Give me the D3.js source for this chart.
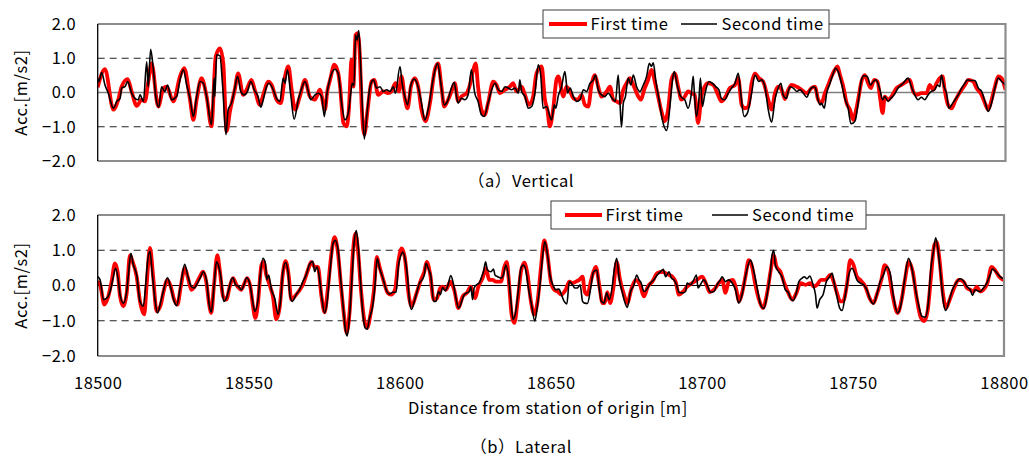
<!DOCTYPE html>
<html>
<head>
<meta charset="utf-8">
<script src="https://cdn.jsdelivr.net/npm/d3@7"></script>
<style>
  body { margin: 0; background: #fff; }
  svg { display: block; }
  text { font-family: "Noto Sans CJK JP", "Noto Sans", sans-serif; fill: #000; letter-spacing: 0.55px; }
</style>
</head>
<body>
<svg id="chart" width="1029" height="458"></svg>
<script>
// ---- data -----------------------------------------------------------------
const distanceDomain = [18500, 18800];
const accDomain = [-2, 2];
const xTickValues = [18500, 18550, 18600, 18650, 18700, 18750, 18800];
const yTickValues = [2, 1, 0, -1, -2];
const gridValues = [1, -1];
const seriesNames = ["First time", "Second time"];
const panelCaptions = ["（a）Vertical", "（b）Lateral"];
const xAxisTitle = "Distance from station of origin [m]";
const yAxisTitle = "Acc.[m/s2]";

// [distance (m), acceleration (m/s2)]
const verticalFirst = [
  [18500.0,0.15],[18502.4,0.68],[18505.2,-0.50],[18506.8,-0.21],[18507.9,0.17],[18509.9,0.39],[18511.2,0.03],[18512.9,-0.39],
  [18514.5,-0.21],[18515.6,-0.26],[18516.7,0.30],[18517.8,0.85],[18520.0,-0.41],[18521.7,0.12],[18522.8,0.17],[18525.0,-0.26],
  [18527.2,0.47],[18528.6,0.71],[18530.5,-0.21],[18531.6,-0.80],[18532.7,-0.21],[18534.3,0.42],[18536.0,-0.12],[18537.6,-0.99],
  [18539.0,1.05],[18540.4,1.29],[18541.5,0.85],[18542.6,-1.13],[18543.7,-0.55],[18545.3,0.08],[18546.4,0.56],[18548.1,-0.07],
  [18549.2,0.08],[18550.8,0.37],[18551.9,0.08],[18553.6,-0.36],[18554.7,-0.07],[18556.4,0.32],[18557.5,0.22],[18559.1,-0.21],
  [18560.5,-0.31],[18561.9,0.47],[18563.0,0.76],[18564.1,0.08],[18565.2,-0.50],[18566.8,-0.12],[18568.5,0.37],[18570.1,-0.12],
  [18571.8,-0.21],[18573.4,0.08],[18575.1,-0.50],[18575.9,0.05],[18576.8,0.37],[18578.2,0.81],[18579.5,0.56],[18580.1,0.17],
  [18581.2,-0.89],[18582.3,-0.99],[18583.0,-0.50],[18583.9,0.95],[18584.5,0.17],[18585.2,1.68],[18585.9,1.73],[18586.7,0.95],
  [18587.2,-0.31],[18588.1,-1.23],[18589.2,-0.50],[18590.5,0.32],[18591.4,0.37],[18592.7,-0.07],[18594.4,0.03],[18596.0,-0.02],
  [18597.1,0.03],[18598.4,0.27],[18599.5,0.03],[18600.4,0.47],[18601.5,-0.17],[18602.4,-0.46],[18603.5,0.17],[18604.8,0.42],
  [18605.9,0.17],[18607.0,-0.50],[18608.3,-0.84],[18609.8,-0.31],[18611.4,0.66],[18612.5,0.85],[18613.6,0.17],[18614.5,-0.41],
  [18615.8,-0.21],[18616.9,0.03],[18618.0,0.27],[18619.1,-0.26],[18620.2,-0.12],[18621.9,-0.02],[18623.0,0.22],[18624.1,0.66],
  [18624.9,0.85],[18625.7,0.17],[18626.8,-0.50],[18627.9,-0.65],[18629.0,-0.31],[18630.7,0.32],[18631.8,0.22],[18632.9,-0.02],
  [18634.6,0.08],[18636.2,0.17],[18637.3,0.27],[18638.4,0.03],[18640.1,0.17],[18641.2,-0.07],[18642.5,-0.36],[18643.9,-0.12],
  [18645.0,0.56],[18646.7,0.76],[18647.8,-0.21],[18648.6,-0.50],[18649.4,-0.99],[18650.5,-0.50],[18651.6,0.37],[18652.2,0.47],
  [18653.9,-0.12],[18654.9,0.17],[18656.1,0.03],[18657.2,-0.17],[18658.6,-0.21],[18659.9,-0.07],[18661.0,-0.36],[18662.1,-0.41],
  [18663.2,0.22],[18664.3,0.51],[18665.4,0.17],[18666.5,-0.12],[18668.2,0.03],[18669.3,0.17],[18670.4,-0.21],[18671.5,-0.26],
  [18672.6,-0.31],[18673.7,0.08],[18674.8,0.27],[18675.9,0.42],[18677.0,0.22],[18678.1,-0.02],[18679.5,-0.21],[18680.6,0.08],
  [18681.9,0.37],[18683.0,0.66],[18684.1,0.32],[18685.2,-0.12],[18686.3,-0.55],[18687.4,-0.84],[18688.5,-0.50],[18689.6,0.37],
  [18690.7,0.56],[18691.8,0.17],[18692.9,-0.21],[18694.0,-0.12],[18695.1,0.03],[18696.2,-0.02],[18697.3,-0.07],[18698.4,-0.89],
  [18699.5,-0.12],[18700.6,0.17],[18701.7,0.27],[18703.4,0.22],[18705.0,-0.07],[18706.1,-0.26],[18707.5,-0.12],[18708.9,0.13],
  [18710.6,0.22],[18711.7,0.42],[18712.8,-0.36],[18713.9,-0.46],[18715.0,-0.41],[18716.1,0.27],[18717.2,0.56],[18718.5,0.42],
  [18719.9,0.32],[18721.6,-0.21],[18722.7,-0.50],[18723.8,-0.02],[18724.9,0.17],[18726.0,0.08],[18727.1,-0.19],[18728.2,0.08],
  [18729.3,0.22],[18731.0,0.17],[18732.6,0.08],[18734.3,-0.02],[18735.9,0.13],[18737.0,0.17],[18738.1,-0.21],[18739.2,-0.31],
  [18740.3,-0.02],[18741.4,0.22],[18742.5,0.47],[18743.6,0.66],[18744.5,0.76],[18745.3,0.51],[18746.4,0.17],[18747.5,-0.31],
  [18748.6,-0.50],[18749.7,-0.80],[18750.4,-0.60],[18751.3,-0.21],[18752.4,0.32],[18753.5,0.51],[18754.6,0.27],[18755.5,0.13],
  [18756.6,0.37],[18757.7,0.32],[18758.5,-0.12],[18759.4,-0.60],[18760.1,-0.12],[18761.2,-0.21],[18762.3,-0.12],[18764.0,0.13],
  [18765.6,0.22],[18767.3,0.32],[18768.4,0.37],[18769.5,0.03],[18770.6,-0.07],[18772.2,-0.02],[18773.9,-0.02],[18775.0,0.22],
  [18776.1,0.08],[18777.2,0.27],[18778.3,0.42],[18779.2,0.47],[18779.9,0.08],[18781.0,-0.36],[18782.2,-0.46],[18783.3,-0.26],
  [18784.4,-0.07],[18785.5,0.08],[18786.6,0.22],[18787.7,0.37],[18789.3,0.32],[18790.4,0.13],[18792.1,-0.07],[18793.2,-0.31],
  [18794.3,-0.50],[18795.4,-0.21],[18796.5,0.17],[18797.6,0.47],[18798.7,0.42],[18800.0,0.08]
];

const verticalSecond = [
  [18500.0,0.42],[18500.4,0.32],[18501.3,0.58],[18502.4,0.22],[18503.5,-0.02],[18505.2,-0.46],[18506.3,-0.26],[18507.4,-0.17],
  [18507.9,0.13],[18509.0,0.17],[18509.9,0.32],[18511.2,-0.02],[18512.3,-0.17],[18513.4,-0.21],[18514.0,-0.07],[18515.1,-0.26],
  [18516.2,0.90],[18516.7,0.17],[18517.5,1.26],[18518.4,0.66],[18519.2,-0.12],[18520.2,-0.43],[18521.1,0.17],[18522.2,0.03],
  [18523.1,0.22],[18524.4,-0.21],[18526.1,-0.12],[18527.2,0.37],[18528.3,0.66],[18529.4,0.22],[18530.5,-0.17],[18531.6,-0.70],
  [18532.7,-0.12],[18533.8,0.32],[18534.9,0.27],[18536.0,-0.12],[18537.6,-0.94],[18538.5,0.42],[18538.7,-0.12],[18539.3,1.10],
  [18540.4,1.07],[18541.3,0.17],[18542.4,-1.23],[18543.1,-0.50],[18544.2,-0.31],[18545.3,0.12],[18546.2,0.47],[18547.3,0.03],
  [18548.4,-0.07],[18549.5,0.03],[18550.6,0.32],[18551.7,0.08],[18553.0,-0.12],[18553.9,-0.43],[18554.7,-0.21],[18555.8,0.17],
  [18556.6,0.27],[18558.0,0.08],[18559.1,-0.17],[18560.2,-0.26],[18561.3,0.42],[18561.9,0.27],[18562.7,0.66],[18563.8,-0.07],
  [18564.9,-0.78],[18566.3,-0.21],[18567.4,0.12],[18568.5,0.32],[18569.6,0.03],[18570.4,-0.21],[18571.8,-0.07],[18572.9,-0.02],
  [18574.0,-0.12],[18574.9,-0.70],[18575.7,-0.07],[18576.8,0.42],[18578.4,0.68],[18579.5,0.56],[18580.6,-0.31],[18581.7,-0.80],
  [18582.8,-0.60],[18583.7,0.03],[18584.1,0.27],[18584.7,0.20],[18585.2,1.68],[18585.7,1.53],[18586.3,1.81],[18587.0,0.56],
  [18588.1,-1.36],[18588.9,-0.70],[18590.0,0.17],[18591.1,0.37],[18592.2,0.13],[18593.3,0.17],[18594.4,0.03],[18595.5,0.08],
  [18596.6,0.03],[18597.7,0.17],[18598.4,-0.02],[18599.9,0.76],[18600.6,0.27],[18601.5,-0.12],[18602.4,-0.36],[18603.5,0.22],
  [18604.6,0.39],[18605.7,0.22],[18607.0,-0.31],[18608.1,-0.80],[18609.4,-0.41],[18610.9,0.42],[18612.3,0.85],[18613.4,0.27],
  [18614.5,-0.36],[18615.6,-0.26],[18616.7,0.08],[18617.8,0.29],[18618.6,-0.12],[18619.1,-0.31],[18620.2,-0.17],[18621.3,-0.21],
  [18622.4,-0.07],[18623.5,0.66],[18624.6,-0.02],[18625.7,-0.26],[18626.8,-0.65],[18627.7,-0.70],[18629.0,-0.31],[18630.2,0.08],
  [18631.3,0.27],[18632.4,0.08],[18633.5,0.03],[18634.6,0.17],[18635.7,0.13],[18636.8,0.08],[18637.9,0.13],[18639.0,-0.02],
  [18639.5,0.37],[18640.1,0.03],[18641.2,-0.12],[18642.3,-0.46],[18643.4,-0.41],[18644.5,-0.02],[18645.6,0.81],[18646.4,0.51],
  [18647.2,-0.46],[18648.3,-0.41],[18650.0,-0.80],[18650.9,-0.36],[18651.4,-0.46],[18652.2,-0.10],[18653.3,0.17],[18654.4,0.61],
  [18655.3,-0.02],[18656.1,0.13],[18657.2,-0.12],[18658.3,-0.26],[18659.4,-0.21],[18660.5,0.08],[18661.6,0.03],[18662.7,0.27],
  [18663.8,0.37],[18664.5,0.51],[18665.4,0.08],[18666.5,-0.07],[18667.6,-0.12],[18668.7,-0.02],[18670.0,-0.17],[18671.1,-0.26],
  [18672.0,0.51],[18672.6,-0.31],[18673.1,-1.01],[18673.7,-0.31],[18674.4,-0.12],[18675.3,0.42],[18676.2,0.22],[18677.0,0.51],
  [18678.1,0.17],[18679.2,0.03],[18680.3,0.22],[18681.4,0.47],[18682.3,0.85],[18683.0,0.76],[18683.6,0.87],[18684.4,0.37],
  [18685.5,-0.21],[18686.6,-0.80],[18688.0,-1.11],[18689.1,-0.41],[18689.9,0.32],[18690.5,0.61],[18691.6,0.17],[18692.7,-0.12],
  [18694.0,-0.21],[18695.1,-0.46],[18696.2,-0.02],[18696.8,0.47],[18697.3,-0.21],[18697.9,-0.70],[18698.7,-0.17],[18699.2,0.42],
  [18699.8,-0.41],[18700.6,-0.07],[18702.0,0.32],[18703.1,0.27],[18704.2,0.17],[18705.3,0.08],[18706.1,-0.17],[18707.2,-0.21],
  [18708.4,-0.02],[18709.5,0.13],[18710.6,0.27],[18711.7,0.56],[18712.5,-0.02],[18713.6,-0.70],[18714.7,-0.60],[18716.1,-0.02],
  [18717.2,0.51],[18718.5,0.32],[18719.4,0.37],[18720.5,0.17],[18721.6,-0.50],[18722.7,-0.87],[18723.8,-0.21],[18724.9,0.13],
  [18725.8,0.27],[18726.5,-0.07],[18727.6,-0.17],[18728.2,0.03],[18728.8,0.17],[18729.9,0.13],[18731.0,0.03],[18732.1,0.08],
  [18733.2,-0.02],[18734.3,-0.14],[18735.4,0.08],[18736.5,0.17],[18737.2,0.13],[18737.9,-0.17],[18738.7,-0.36],[18739.2,-0.31],
  [18740.1,-0.46],[18740.9,-0.02],[18742.0,0.27],[18743.1,0.56],[18743.8,0.71],[18744.7,0.61],[18745.8,0.27],[18746.9,-0.17],
  [18748.0,-0.46],[18748.9,-0.91],[18749.7,-0.89],[18750.4,-0.80],[18751.3,-0.31],[18752.4,0.37],[18753.2,0.49],[18754.3,0.47],
  [18755.4,0.22],[18756.3,0.32],[18757.2,0.37],[18758.5,0.08],[18759.4,-0.21],[18760.1,-0.12],[18761.2,-0.26],[18762.1,-0.17],
  [18763.2,-0.07],[18764.5,0.13],[18766.2,0.27],[18767.8,0.42],[18768.9,0.17],[18770.0,-0.07],[18771.1,-0.21],[18772.2,-0.14],
  [18773.3,-0.21],[18774.4,-0.07],[18775.5,0.03],[18776.6,0.08],[18777.5,0.22],[18778.3,0.17],[18778.8,0.51],[18779.7,0.17],
  [18780.5,-0.02],[18781.3,-0.46],[18782.2,-0.36],[18783.3,-0.21],[18784.4,-0.07],[18785.5,0.13],[18786.6,0.27],[18787.4,0.37],
  [18788.8,0.35],[18789.9,0.35],[18791.0,0.13],[18792.1,0.03],[18793.2,-0.26],[18794.3,-0.55],[18795.4,-0.31],[18796.5,0.13],
  [18797.6,0.42],[18798.7,0.32],[18800.0,0.22]
];

const lateralFirst = [
  [18500.0,0.11],[18500.8,0.02],[18502.2,-0.54],[18503.5,-0.31],[18504.6,0.11],[18505.7,0.63],[18506.6,0.39],[18507.4,-0.31],
  [18508.5,-0.59],[18509.6,-0.21],[18510.7,0.86],[18511.4,0.72],[18512.9,0.25],[18514.0,-0.45],[18515.4,-0.82],[18516.2,0.02],
  [18517.3,1.07],[18518.4,0.21],[18519.5,-0.73],[18520.9,-0.54],[18521.7,-0.21],[18523.1,0.16],[18524.2,-0.03],[18525.3,-0.40],
  [18526.4,-0.54],[18527.5,-0.03],[18528.8,0.49],[18529.9,0.21],[18531.0,-0.12],[18532.1,-0.03],[18533.8,0.25],[18534.9,0.39],
  [18536.0,0.07],[18536.9,-0.54],[18537.6,-0.78],[18538.5,0.02],[18539.6,0.86],[18540.4,0.44],[18541.5,-0.31],[18542.6,-0.40],
  [18543.7,-0.03],[18544.8,0.21],[18545.9,0.02],[18547.5,-0.12],[18548.6,0.07],[18549.5,0.21],[18550.6,-0.07],[18551.4,-0.59],
  [18552.2,-0.92],[18553.0,-0.54],[18554.2,0.58],[18554.9,0.67],[18555.8,0.30],[18556.9,0.02],[18558.0,-0.31],[18559.1,-0.96],
  [18560.2,-0.64],[18561.3,0.35],[18562.2,0.69],[18563.2,0.30],[18564.1,-0.40],[18565.2,-0.31],[18566.5,-0.17],[18567.9,0.02],
  [18569.6,0.44],[18570.7,0.67],[18571.8,0.53],[18572.9,0.53],[18574.0,-0.26],[18575.1,-0.76],[18576.2,-0.07],[18577.3,0.86],
  [18578.4,1.37],[18579.5,0.95],[18580.6,-0.07],[18581.5,-0.82],[18582.4,-1.34],[18583.4,-0.73],[18584.5,0.95],[18585.3,1.47],
  [18586.1,1.05],[18587.2,-0.17],[18588.3,-1.01],[18589.2,-1.20],[18590.3,-0.82],[18591.4,-0.17],[18592.4,0.81],[18593.3,0.53],
  [18594.7,0.11],[18596.0,-0.21],[18597.1,-0.26],[18598.4,-0.12],[18599.5,0.67],[18600.6,1.05],[18601.7,0.77],[18602.8,-0.17],
  [18603.9,-0.59],[18605.4,-0.26],[18607.0,0.16],[18608.1,0.39],[18608.9,0.67],[18610.1,0.30],[18611.2,-0.40],[18612.3,-0.36],
  [18613.4,-0.07],[18614.2,-0.03],[18615.3,-0.12],[18616.7,0.11],[18618.0,-0.12],[18619.4,-0.64],[18620.8,-0.31],[18622.2,-0.21],
  [18623.5,-0.03],[18624.9,-0.36],[18626.0,-0.03],[18627.4,0.21],[18628.5,0.49],[18629.6,0.16],[18630.7,0.16],[18631.8,0.11],
  [18633.5,0.11],[18634.6,0.53],[18635.4,0.67],[18636.2,0.02],[18637.0,-0.82],[18637.9,-1.06],[18639.0,-0.45],[18640.1,0.39],
  [18641.2,0.65],[18642.3,0.30],[18643.4,-0.45],[18644.5,-0.82],[18645.6,-0.45],[18646.7,0.49],[18647.8,1.28],[18648.9,0.86],
  [18650.0,0.11],[18651.1,-0.12],[18652.2,-0.17],[18653.5,-0.26],[18654.9,-0.12],[18656.1,0.11],[18657.2,0.07],[18658.3,0.11],
  [18659.4,0.16],[18660.5,0.25],[18661.2,-0.17],[18662.1,-0.26],[18663.2,0.11],[18664.1,0.39],[18664.9,0.53],[18666.0,0.02],
  [18667.1,-0.50],[18667.8,-0.50],[18668.7,-0.19],[18669.6,-0.50],[18670.7,-0.07],[18671.8,0.67],[18672.9,0.16],[18674.2,-0.26],
  [18675.3,-0.50],[18676.6,-0.12],[18678.1,0.16],[18679.5,0.02],[18680.8,-0.31],[18682.1,-0.03],[18683.6,0.11],[18685.2,0.35],
  [18686.9,0.39],[18688.0,0.35],[18689.1,0.30],[18690.2,0.25],[18691.3,0.11],[18692.4,-0.26],[18693.8,-0.17],[18695.1,-0.03],
  [18696.8,0.07],[18698.4,0.16],[18700.1,0.25],[18701.5,0.02],[18702.6,-0.19],[18704.0,-0.12],[18705.6,0.07],[18706.7,0.16],
  [18707.8,-0.21],[18708.9,0.11],[18710.3,0.16],[18711.4,-0.12],[18712.3,-0.45],[18713.3,-0.21],[18714.4,0.25],[18715.5,0.72],
  [18716.6,0.53],[18717.7,0.02],[18719.1,-0.45],[18720.2,-0.64],[18721.6,-0.21],[18722.7,0.39],[18723.8,0.86],[18724.7,0.53],
  [18726.0,0.39],[18727.1,0.11],[18728.4,-0.17],[18729.9,-0.40],[18731.3,-0.21],[18732.6,0.07],[18734.3,0.02],[18735.9,0.07],
  [18737.0,-0.03],[18738.1,0.02],[18739.4,0.16],[18740.9,0.16],[18742.5,0.30],[18743.6,0.11],[18744.7,-0.21],[18745.8,-0.45],
  [18746.7,-0.45],[18748.0,0.02],[18749.1,0.72],[18750.2,0.58],[18751.3,0.25],[18752.4,0.16],[18754.1,-0.03],[18755.5,-0.36],
  [18756.8,-0.50],[18757.9,-0.26],[18759.4,0.16],[18760.5,0.58],[18761.8,0.39],[18763.2,-0.31],[18764.8,-0.78],[18766.2,-0.36],
  [18767.3,0.21],[18768.4,0.67],[18769.8,0.39],[18771.1,-0.36],[18772.5,-0.92],[18773.6,-1.01],[18774.7,-0.73],[18775.8,0.21],
  [18776.9,1.14],[18777.7,1.23],[18778.6,0.77],[18779.7,-0.17],[18780.8,-0.64],[18782.2,-0.36],[18783.5,-0.07],[18784.9,0.16],
  [18786.6,0.11],[18787.7,-0.07],[18788.8,-0.12],[18789.9,-0.17],[18791.0,-0.03],[18792.1,-0.17],[18793.2,-0.12],[18794.5,0.07],
  [18795.9,0.53],[18797.0,0.44],[18798.4,0.25],[18800.0,0.15]
];

const lateralSecond = [
  [18500.0,0.25],[18500.8,0.16],[18501.9,-0.40],[18503.0,-0.36],[18504.1,-0.17],[18505.2,0.25],[18505.9,0.49],[18506.8,0.16],
  [18507.4,-0.26],[18508.5,-0.50],[18509.6,-0.17],[18510.1,0.25],[18511.0,0.91],[18511.8,0.58],[18512.9,0.30],[18514.0,-0.45],
  [18515.1,-0.59],[18515.8,-0.07],[18516.5,0.67],[18517.3,0.97],[18518.0,0.39],[18518.9,-0.36],[18519.8,-0.78],[18520.9,-0.45],
  [18521.7,-0.17],[18523.1,0.22],[18524.2,-0.07],[18525.3,-0.45],[18526.1,-0.57],[18527.2,-0.12],[18527.9,0.25],[18528.8,0.60],
  [18529.9,0.25],[18531.0,-0.03],[18531.9,-0.07],[18533.0,0.07],[18534.1,0.25],[18534.9,0.39],[18536.0,0.16],[18536.9,-0.54],
  [18537.6,-0.75],[18538.5,-0.03],[18539.3,0.67],[18540.1,0.53],[18540.9,0.16],[18541.7,-0.45],[18542.6,-0.36],[18543.4,-0.12],
  [18544.2,0.16],[18544.8,0.22],[18545.6,0.02],[18546.7,-0.03],[18547.5,-0.12],[18548.4,0.02],[18549.3,0.22],[18550.3,0.07],
  [18551.2,-0.40],[18552.0,-0.73],[18553.0,-0.45],[18553.8,0.30],[18554.7,0.77],[18555.5,0.63],[18556.0,0.16],[18556.6,0.30],
  [18557.5,-0.12],[18558.6,-0.36],[18559.7,-0.82],[18560.5,-0.45],[18561.3,0.39],[18562.2,0.65],[18563.0,0.39],[18563.7,-0.31],
  [18564.4,-0.45],[18565.7,-0.26],[18566.8,-0.12],[18567.9,0.11],[18569.0,0.30],[18570.1,0.60],[18571.2,0.69],[18571.8,0.39],
  [18572.6,0.53],[18573.4,0.21],[18574.2,-0.36],[18575.1,-0.78],[18575.9,-0.50],[18576.8,0.30],[18577.9,1.19],[18578.6,1.28],
  [18579.5,1.05],[18580.4,0.21],[18581.2,-0.54],[18581.9,-1.20],[18582.6,-1.43],[18583.4,-0.82],[18584.1,0.11],[18584.8,1.14],
  [18585.6,1.56],[18586.3,1.05],[18587.0,0.11],[18587.8,-0.82],[18588.5,-1.20],[18589.2,-1.24],[18590.0,-0.92],[18591.1,-0.54],
  [18591.8,0.02],[18592.5,0.77],[18593.3,0.49],[18594.4,0.21],[18595.5,-0.12],[18596.6,-0.24],[18597.7,-0.19],[18598.8,-0.19],
  [18599.5,0.53],[18600.4,0.86],[18601.0,0.95],[18601.7,0.77],[18602.6,0.21],[18603.2,-0.45],[18603.9,-0.68],[18604.8,-0.45],
  [18605.7,-0.17],[18606.5,0.07],[18607.4,0.16],[18608.1,0.30],[18608.7,0.63],[18609.4,0.49],[18610.3,0.25],[18611.2,-0.45],
  [18612.0,-0.45],[18612.8,-0.17],[18613.4,-0.26],[18614.2,-0.06],[18615.0,-0.15],[18615.8,-0.03],[18616.9,0.28],[18617.8,0.02],
  [18618.6,-0.36],[18619.5,-0.64],[18620.5,-0.45],[18621.3,-0.26],[18622.2,-0.21],[18623.0,-0.17],[18623.5,-0.03],[18624.1,-0.40],
  [18624.6,-0.07],[18625.4,0.02],[18626.3,0.07],[18627.1,0.25],[18627.7,0.39],[18628.4,0.67],[18629.0,0.44],[18630.2,0.39],
  [18631.0,0.47],[18631.5,0.30],[18632.4,0.25],[18633.5,0.21],[18634.3,0.30],[18635.1,0.58],[18635.9,0.30],[18636.8,-0.45],
  [18637.5,-0.96],[18638.4,-0.73],[18639.2,-0.17],[18640.1,0.49],[18640.9,0.58],[18641.7,0.44],[18642.5,-0.03],[18643.6,-0.54],
  [18644.7,-1.01],[18645.6,-0.54],[18646.4,0.02],[18647.2,0.77],[18648.0,1.25],[18648.9,0.86],[18649.7,0.30],[18650.9,-0.03],
  [18651.6,-0.12],[18652.7,-0.10],[18653.3,-0.21],[18654.4,-0.45],[18655.3,-0.52],[18656.1,0.11],[18657.2,0.02],[18657.9,-0.07],
  [18658.8,-0.07],[18659.7,0.02],[18660.5,-0.45],[18661.2,-0.50],[18662.1,-0.51],[18663.2,-0.07],[18664.1,0.39],[18665.2,0.44],
  [18666.0,-0.07],[18666.7,-0.45],[18667.6,-0.50],[18668.5,-0.21],[18669.3,-0.40],[18670.4,0.02],[18670.9,0.39],[18671.8,0.77],
  [18672.6,0.21],[18673.7,-0.21],[18674.4,-0.45],[18675.3,-0.62],[18676.4,-0.17],[18677.5,0.02],[18678.4,0.30],[18679.2,0.16],
  [18679.9,0.07],[18680.8,-0.17],[18681.7,-0.12],[18683.0,0.07],[18684.1,0.16],[18685.2,0.30],[18686.3,0.39],[18687.2,0.46],
  [18688.0,0.25],[18689.1,0.39],[18689.9,0.21],[18690.7,0.16],[18691.6,0.02],[18692.4,-0.19],[18693.5,-0.21],[18694.6,-0.17],
  [18695.1,0.07],[18696.2,0.02],[18697.3,0.16],[18698.2,0.30],[18698.7,-0.07],[18699.5,0.02],[18700.6,0.16],[18701.7,0.02],
  [18702.8,-0.19],[18704.0,-0.17],[18705.0,0.02],[18706.1,0.16],[18706.7,0.25],[18707.8,0.11],[18708.9,0.16],[18710.0,0.07],
  [18711.1,-0.12],[18712.2,-0.50],[18713.3,-0.26],[18714.4,0.25],[18715.5,0.63],[18716.1,0.72],[18717.2,0.39],[18718.3,-0.07],
  [18719.4,-0.54],[18720.5,-0.65],[18721.6,-0.26],[18722.7,0.39],[18723.2,0.86],[18723.8,1.00],[18724.3,0.58],[18725.4,0.39],
  [18726.5,0.25],[18727.6,-0.12],[18728.7,-0.21],[18729.3,-0.36],[18730.2,-0.43],[18731.3,-0.19],[18732.1,0.11],[18733.2,0.21],
  [18733.9,0.25],[18734.8,0.19],[18735.7,0.27],[18736.8,0.02],[18737.6,-0.26],[18738.1,-0.64],[18739.0,-0.40],[18740.1,-0.26],
  [18741.2,0.11],[18742.3,0.25],[18743.1,0.35],[18743.8,0.07],[18744.7,-0.31],[18745.6,-0.64],[18746.4,-0.71],[18747.5,-0.26],
  [18748.6,0.30],[18749.7,0.49],[18750.4,0.39],[18751.3,0.16],[18752.4,0.07],[18753.5,0.02],[18754.6,-0.12],[18755.7,-0.40],
  [18756.8,-0.52],[18757.9,-0.26],[18759.0,0.11],[18760.1,0.30],[18761.2,0.53],[18762.3,0.35],[18763.4,-0.31],[18764.8,-0.78],
  [18765.9,-0.54],[18767.0,0.11],[18768.4,0.77],[18769.5,0.49],[18770.6,-0.07],[18771.7,-0.54],[18772.8,-0.87],[18773.9,-0.90],
  [18775.0,-0.45],[18775.8,0.49],[18776.6,0.95],[18777.4,1.35],[18778.3,0.91],[18779.1,0.25],[18779.9,-0.45],[18780.7,-0.71],
  [18781.8,-0.45],[18782.9,-0.12],[18784.1,0.07],[18785.5,0.19],[18786.6,0.13],[18787.7,-0.03],[18788.8,-0.12],[18789.6,-0.28],
  [18790.4,-0.12],[18791.2,-0.15],[18792.1,-0.17],[18793.2,-0.07],[18794.3,0.07],[18795.4,0.30],[18796.2,0.47],[18797.3,0.39],
  [18798.7,0.25],[18800.0,0.18]
];

// ---- layout ---------------------------------------------------------------
const svg = d3.select("#chart");
const left = 97.7;
const fontSize = 16.5;
const firstColor = "#ff0000";
const secondColor = "#000000";

const panels = [
  { key: "vertical", top: 24, bottom: 161, right: 1005.5, first: verticalFirst, second: verticalSecond,
    caption: panelCaptions[0], captionY: 181, zeroColor: "#7f7f7f", zeroWidth: 1.6, showXAxis: false,
    legend: { x: 543, y: 10, w: 286, h: 28, firstLine: [549, 587], firstText: 590.5, secondLine: [681, 717], secondText: 721.5 } },
  { key: "lateral", top: 215, bottom: 356, right: 1004, first: lateralFirst, second: lateralSecond,
    caption: panelCaptions[1], captionY: 447, zeroColor: "#000000", zeroWidth: 1, showXAxis: true,
    legend: { x: 551, y: 201, w: 315, h: 28, firstLine: [565, 602], firstText: 605.5, secondLine: [712, 748], secondText: 752 } }
];

panels.forEach((p) => {
  const x = d3.scaleLinear().domain(distanceDomain).range([left, p.right]);
  const y = d3.scaleLinear().domain(accDomain).range([p.bottom, p.top]);
  const g = svg.append("g").attr("class", "panel-" + p.key);

  const clipId = "clip-" + p.key;
  svg.append("clipPath").attr("id", clipId)
    .append("rect").attr("x", left).attr("y", p.top).attr("width", p.right - left).attr("height", p.bottom - p.top);

  // dashed reference lines at +/-1
  g.selectAll("line.grid").data(gridValues).join("line")
    .attr("class", "grid")
    .attr("x1", left).attr("x2", p.right)
    .attr("y1", d => y(d)).attr("y2", d => y(d))
    .attr("stroke", "#222").attr("stroke-width", 1)
    .attr("stroke-dasharray", "7,5");

  // zero line
  g.append("line")
    .attr("x1", left).attr("x2", p.right)
    .attr("y1", y(0)).attr("y2", y(0))
    .attr("stroke", p.zeroColor).attr("stroke-width", p.zeroWidth);

  const line = d3.line()
    .x(d => x(d[0]))
    .y(d => y(d[1]))
    .curve(d3.curveMonotoneX);

  const traces = g.append("g").attr("clip-path", `url(#${clipId})`);
  traces.append("path").datum(p.first)
    .attr("d", line).attr("fill", "none")
    .attr("stroke", firstColor).attr("stroke-width", 3.8).attr("stroke-linejoin", "round");
  traces.append("path").datum(p.second)
    .attr("d", line).attr("fill", "none")
    .attr("stroke", secondColor).attr("stroke-width", 1.6).attr("stroke-linejoin", "round");

  // frame: grey top/right/bottom, black value axis on the left
  g.append("path")
    .attr("d", `M${left},${p.top}H${p.right}V${p.bottom}H${left}`)
    .attr("fill", "none").attr("stroke", "#8c8c8c").attr("stroke-width", 2.2);
  g.append("line")
    .attr("x1", left).attr("x2", left).attr("y1", p.top).attr("y2", p.bottom)
    .attr("stroke", "#000").attr("stroke-width", 1.3);

  // value axis labels
  const yAxis = d3.axisLeft(y).tickValues(yTickValues).tickFormat(d3.format(".1f")).tickSize(0).tickPadding(21.5);
  const ya = g.append("g").attr("transform", `translate(${left},0)`).call(yAxis);
  ya.select(".domain").remove();
  ya.selectAll("text").attr("font-size", fontSize).attr("font-family", null).attr("fill", "#000");

  g.append("text")
    .attr("transform", `translate(20,${(p.top + p.bottom) / 2}) rotate(-90)`)
    .attr("text-anchor", "middle").attr("dominant-baseline", "central")
    .attr("font-size", fontSize).text(yAxisTitle);

  if (p.showXAxis) {
    const xAxis = d3.axisBottom(x).tickValues(xTickValues).tickFormat(d3.format("d")).tickSize(0);
    const xa = g.append("g").attr("transform", `translate(0,${p.bottom})`).call(xAxis);
    xa.select(".domain").remove();
    xa.selectAll("text").attr("font-size", fontSize).attr("font-family", null).attr("fill", "#000")
      .attr("y", 27).attr("dy", "0.35em");
    g.append("text")
      .attr("x", (left + p.right) / 2 - 3).attr("y", 408).attr("dy", "0.35em")
      .attr("text-anchor", "middle").attr("font-size", fontSize).text(xAxisTitle);
  }

  // caption
  g.append("text")
    .attr("x", 521).attr("y", p.captionY).attr("dy", "0.35em")
    .attr("text-anchor", "middle").attr("font-size", fontSize).text(p.caption);

  // legend
  const L = p.legend;
  const cy = L.y + L.h / 2;
  const lg = g.append("g").attr("class", "legend");
  lg.append("rect").attr("x", L.x).attr("y", L.y).attr("width", L.w).attr("height", L.h)
    .attr("fill", "#fff").attr("stroke", "#3c3c3c").attr("stroke-width", 1);
  lg.append("line").attr("x1", L.firstLine[0]).attr("x2", L.firstLine[1]).attr("y1", cy).attr("y2", cy)
    .attr("stroke", firstColor).attr("stroke-width", 4);
  lg.append("text").attr("x", L.firstText).attr("y", cy).attr("dy", "0.35em")
    .attr("font-size", fontSize).text(seriesNames[0]);
  lg.append("line").attr("x1", L.secondLine[0]).attr("x2", L.secondLine[1]).attr("y1", cy).attr("y2", cy)
    .attr("stroke", secondColor).attr("stroke-width", 1.5);
  lg.append("text").attr("x", L.secondText).attr("y", cy).attr("dy", "0.35em")
    .attr("font-size", fontSize).text(seriesNames[1]);
});
</script>
</body>
</html>
